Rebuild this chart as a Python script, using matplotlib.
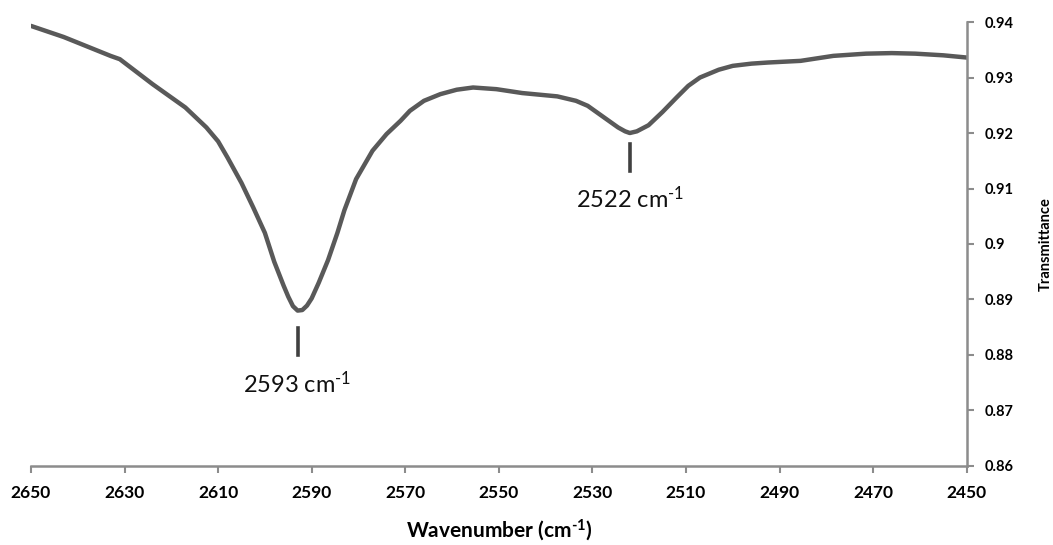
import matplotlib
matplotlib.use("Agg")
import matplotlib.pyplot as plt

plt.rcParams["font.family"] = ["Lato", "DejaVu Sans"]
plt.rcParams["mathtext.fontset"] = "custom"
plt.rcParams["mathtext.rm"] = "Lato"
plt.rcParams["mathtext.bf"] = "Lato:bold"
plt.rcParams["mathtext.default"] = "regular"

# IR spectrum
wavenumber = [2650, 2643, 2633, 2631, 2624, 2617, 2612.5, 2610, 2608, 2605,
              2602.5, 2600, 2598, 2596, 2595, 2594, 2593, 2592, 2591, 2590,
              2588.5, 2586.5, 2584.5, 2583, 2580.5, 2577, 2574, 2571, 2569, 2566,
              2562.5, 2559, 2555.5, 2550.5, 2545, 2540, 2537.5, 2533.5, 2531, 2529,
              2526.5, 2524.5, 2523, 2522, 2520.5, 2518, 2515, 2512, 2509.5, 2507,
              2503, 2500, 2496, 2492.5, 2485.5, 2478.5, 2471.5, 2466, 2461, 2455, 2450]
transmittance = [0.9393, 0.9373, 0.9339, 0.9333, 0.9288, 0.9246, 0.9210, 0.9185, 0.9156, 0.9110,
                 0.9066, 0.9020, 0.8968, 0.8925, 0.8905, 0.8888, 0.8880, 0.8881, 0.8889, 0.8902,
                 0.8930, 0.8971, 0.9020, 0.9061, 0.9117, 0.9168, 0.9198, 0.9222, 0.9240, 0.9258,
                 0.9270, 0.9278, 0.9282, 0.9279, 0.9272, 0.9268, 0.9266, 0.9258, 0.9249, 0.9237,
                 0.9222, 0.9210, 0.9203, 0.9200, 0.9203, 0.9214, 0.9238, 0.9264, 0.9285, 0.9300,
                 0.9314, 0.9321, 0.9325, 0.9327, 0.9330, 0.9339, 0.9343, 0.9344, 0.9343, 0.9340,
                 0.9336]

peaks = [2593, 2522]
peak_mark_top = [0.8849, 0.9181]
peak_mark_bottom = [0.8800, 0.9132]
peak_label_y = [0.8772, 0.9105]

fig = plt.figure(figsize=(10.53, 5.45), dpi=100)
ax = fig.add_axes([0.0294, 0.145, 0.8886, 0.8146])

ax.plot(wavenumber, transmittance, color="#595959", lw=3.2,
        solid_capstyle="round", solid_joinstyle="round")

for wn, y0, y1, ly in zip(peaks, peak_mark_top, peak_mark_bottom, peak_label_y):
    ax.plot([wn, wn], [y0, y1], color="#404040", lw=2.6)
    ax.text(wn, ly, f"{wn} cm$^{{\u20101}}$", ha="center", va="top",
            fontsize=17, color="#111111")

ax.set_xlim(2650, 2450)
ax.set_ylim(0.86, 0.94)
ax.set_xticks(range(2650, 2449, -20))
ax.set_yticks([0.86, 0.87, 0.88, 0.89, 0.9, 0.91, 0.92, 0.93, 0.94])
ax.set_yticklabels(["0.86", "0.87", "0.88", "0.89", "0.9", "0.91", "0.92", "0.93", "0.94"])

ax.spines["top"].set_visible(False)
ax.spines["left"].set_visible(False)
for side in ("bottom", "right"):
    ax.spines[side].set_color("#8c8c8c")
    ax.spines[side].set_linewidth(1.8)

ax.yaxis.tick_right()
ax.yaxis.set_label_position("right")
ax.tick_params(axis="x", direction="out", length=5, width=1.5, color="#8c8c8c",
               labelsize=12.5, pad=9)
ax.tick_params(axis="y", direction="out", length=5, width=1.5, color="#8c8c8c",
               labelsize=10.5, pad=8)
for lab in ax.get_xticklabels() + ax.get_yticklabels():
    lab.set_fontweight("bold")

ax.set_xlabel("Wavenumber (cm$^{\u20101}$)", fontsize=15, fontweight="bold", labelpad=11)
ax.set_ylabel("Transmittance", fontsize=10.5, fontweight="bold", labelpad=18)

fig.savefig("out.png", dpi=100)
